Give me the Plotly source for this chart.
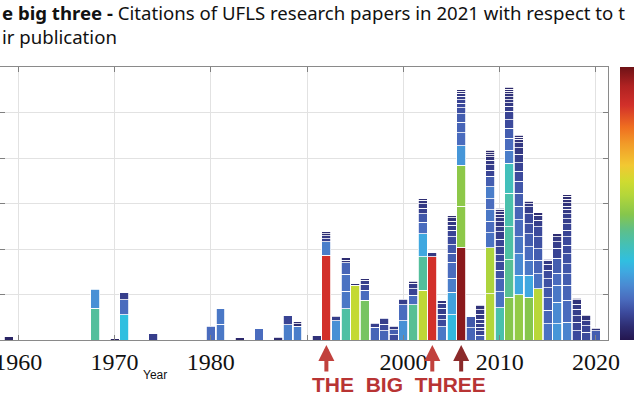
import plotly.graph_objects as go

# ---------------- data ----------------
years = [1959, 1968, 1970, 1971, 1974, 1980, 1981, 1983, 1985, 1987, 1988, 1989,
         1991, 1992, 1993, 1994, 1995, 1996, 1997, 1998, 1999, 2000, 2001, 2002,
         2003, 2004, 2005, 2006, 2007, 2008, 2009, 2010, 2011, 2012, 2013, 2014,
         2015, 2016, 2017, 2018, 2019, 2020]

# citations in 2021 of each paper of the year, stacked bottom -> top
paper_citations = [
    [1.5],
    [14.0, 8.4],
    [0.6],
    [11.2, 6.5, 3.1],
    [2.8],
    [6.0],
    [7.0, 6.8],
    [1.0],
    [5.0],
    [1.3],
    [6.6, 4.0],
    [6.0, 1.2, 0.8],
    [1.8],
    [37.2, 5.9, 1.5, 1.2, 0.9, 0.9],
    [8.4, 1.8, 0.4],
    [13.7, 7.7, 7.4, 5.1, 1.2, 1.0],
    [24.0, 0.7],
    [17.4, 4.4, 2.6, 1.8, 0.7],
    [5.6, 1.8],
    [4.1, 2.9, 2.5],
    [2.4, 2.1, 1.6],
    [8.5, 7.1, 2.4],
    [15.5, 4.1, 2.9, 2.5, 0.9],
    [21.8, 14.9, 9.9, 5.2, 3.7, 2.5, 1.9, 1.5, 0.6],
    [36.5, 1.9],
    [5.9, 2.9, 2.6, 2.5, 2.2, 1.2],
    [11.0, 9.9, 6.3, 6.9, 4.1, 3.7, 3.4, 2.9, 2.2, 1.8, 1.5, 0.9],
    [40.8, 18.1, 18.0, 8.5, 5.6, 4.7, 3.7, 2.6, 2.1, 1.6, 1.5, 1.3, 0.9, 0.6],
    [5.3, 5.0],
    [2.2, 1.9, 1.5, 1.8, 1.8, 2.2, 1.9, 1.9],
    [20.3, 20.2, 6.6, 5.1, 5.1, 4.9, 5.1, 4.7, 2.6, 2.5, 1.9, 1.5, 1.0, 0.9, 1.0],
    [14.1, 7.2, 5.6, 3.7, 3.7, 3.2, 3.4, 3.4, 3.2, 2.2, 2.2, 1.8, 1.5, 1.2, 1.0, 0.5],
    [18.8, 16.5, 14.4, 14.7, 13.2, 5.9, 5.2, 4.4, 3.7, 3.7, 2.2, 1.6, 1.4, 1.3, 1.2, 1.1, 1.0, 0.7],
    [19.9, 8.5, 9.6, 7.4, 7.4, 5.9, 5.9, 5.2, 4.4, 3.7, 3.7, 2.9, 2.2, 1.5, 1.0, 0.8],
    [18.8, 9.6, 6.6, 5.9, 5.9, 4.4, 4.4, 2.9, 1.5, 1.0],
    [22.5, 6.6, 5.9, 5.2, 5.2, 4.4, 2.9, 2.2, 1.0],
    [7.1, 5.9, 5.6, 4.3, 4.1, 3.7, 2.6, 1.8, 0.5],
    [7.1, 9.6, 7.4, 5.2, 6.6, 4.4, 2.9, 2.2, 1.2],
    [7.8, 9.6, 6.6, 5.2, 4.4, 4.4, 3.7, 3.7, 2.9, 2.9, 2.2, 2.2, 1.8, 1.5, 1.5, 1.5, 1.2, 0.7],
    [4.1, 3.7, 2.9, 2.9, 2.2, 1.8, 0.7],
    [3.4, 2.9, 2.2, 2.2, 0.5],
    [4.1, 0.8, 0.5],
]

# colour value (relative position on the colour bar) of each paper
paper_shade = [
    [0.03],
    [0.38, 0.21],
    [0.03],
    [0.29, 0.15, 0.08],
    [0.08],
    [0.15],
    [0.17, 0.17],
    [0.04],
    [0.15],
    [0.05],
    [0.18, 0.09],
    [0.18, 0.05, 0.05],
    [0.06],
    [0.86, 0.18, 0.08, 0.07, 0.05, 0.05],
    [0.21, 0.08, 0.05],
    [0.37, 0.17, 0.16, 0.14, 0.06, 0.05],
    [0.56, 0.05],
    [0.44, 0.15, 0.09, 0.08, 0.05],
    [0.14, 0.08],
    [0.14, 0.10, 0.08],
    [0.10, 0.13, 0.07],
    [0.21, 0.15, 0.08],
    [0.39, 0.15, 0.09, 0.08, 0.05],
    [0.55, 0.38, 0.25, 0.15, 0.12, 0.08, 0.07, 0.06, 0.05],
    [0.86, 0.07],
    [0.17, 0.10, 0.09, 0.08, 0.08, 0.06],
    [0.28, 0.24, 0.18, 0.15, 0.13, 0.12, 0.10, 0.09, 0.08, 0.07, 0.06, 0.05],
    [0.97, 0.47, 0.47, 0.22, 0.15, 0.14, 0.13, 0.11, 0.10, 0.09, 0.08, 0.07, 0.06, 0.05],
    [0.14, 0.12],
    [0.13, 0.09, 0.08, 0.08, 0.08, 0.07, 0.07, 0.06],
    [0.53, 0.52, 0.16, 0.15, 0.17, 0.15, 0.18, 0.13, 0.09, 0.08, 0.07, 0.06, 0.05, 0.05, 0.04],
    [0.36, 0.16, 0.14, 0.11, 0.10, 0.10, 0.09, 0.09, 0.08, 0.08, 0.07, 0.07, 0.06, 0.06, 0.05, 0.04],
    [0.46, 0.39, 0.37, 0.36, 0.34, 0.18, 0.15, 0.13, 0.10, 0.09, 0.08, 0.07, 0.07, 0.06, 0.06, 0.05, 0.05, 0.04],
    [0.48, 0.25, 0.20, 0.17, 0.15, 0.14, 0.13, 0.12, 0.10, 0.09, 0.08, 0.07, 0.07, 0.06, 0.05, 0.05],
    [0.46, 0.25, 0.17, 0.15, 0.13, 0.11, 0.10, 0.08, 0.07, 0.05],
    [0.54, 0.16, 0.14, 0.13, 0.11, 0.10, 0.08, 0.07, 0.05],
    [0.16, 0.14, 0.13, 0.12, 0.11, 0.10, 0.08, 0.07, 0.05],
    [0.22, 0.20, 0.17, 0.15, 0.13, 0.09, 0.08, 0.07, 0.05],
    [0.19, 0.15, 0.14, 0.13, 0.12, 0.11, 0.10, 0.10, 0.09, 0.09, 0.08, 0.08, 0.07, 0.07, 0.06, 0.06, 0.05, 0.04],
    [0.10, 0.09, 0.08, 0.08, 0.07, 0.06, 0.04],
    [0.10, 0.09, 0.08, 0.06, 0.04],
    [0.13, 0.06, 0.04],
]

tick_years = [1960, 1970, 1980, 1990, 2000, 2010, 2020]
tick_labels = ["1960", "1970", "1980", "", "2000", "2010", "2020"]
big_three = [1992, 2003, 2006]
big_three_colors = ["#c1413d", "#c1413d", "#8b2a2a"]

# text visible in the (cropped) reference picture
title_bold = "e big three - "
title_line1 = "Citations of UFLS research papers in 2021 with respect to t"
title_line2 = "ir publication"

colorscale = [
    [0.00, "#24164f"], [0.05, "#2e2d72"], [0.10, "#3c4a9c"], [0.15, "#4a6cbe"],
    [0.20, "#4a8ad2"], [0.25, "#3fa8e0"], [0.29, "#30bfe0"], [0.35, "#45c0b4"],
    [0.40, "#5cbf8c"], [0.46, "#86c64c"], [0.53, "#b4d63a"], [0.58, "#cfdb30"],
    [0.64, "#f2c832"], [0.72, "#f29a28"], [0.78, "#ef6e20"], [0.86, "#d2302a"],
    [0.93, "#b02222"], [1.00, "#6e1216"],
]

# ---------------- figure ----------------
fig = go.Figure()
n_layers = max(len(h) for h in paper_citations)
for k in range(n_layers):
    xs, ys, cs = [], [], []
    for yr, hs, ss in zip(years, paper_citations, paper_shade):
        if k < len(hs):
            xs.append(yr)
            ys.append(hs[k])
            cs.append(ss[k])
    fig.add_trace(go.Bar(
        x=xs, y=ys,
        marker=dict(color=cs, coloraxis="coloraxis",
                    line=dict(color="white", width=0.8)),
        showlegend=False, hoverinfo="skip",
    ))

W, H = 634, 397
L, R, T, B = 0, 26, 67, 57
pw, ph = W - L - R, H - T - B


def px_x(p):
    return (p - L) / pw


def px_y(p):
    return (H - B - p) / ph


fig.update_layout(
    width=W, height=H,
    margin=dict(l=L, r=R, t=T, b=B, pad=0, autoexpand=False),
    barmode="stack", bargap=0.07,
    plot_bgcolor="white", paper_bgcolor="white",
    coloraxis=dict(
        colorscale=colorscale, cmin=0, cmax=1,
        colorbar=dict(x=px_x(620), xanchor="left", xpad=0, ypad=0,
                      y=0.5, yanchor="middle", len=1, lenmode="fraction",
                      thickness=16, outlinewidth=0, ticks="",
                      showticklabels=False),
    ),
    xaxis=dict(
        range=[1958.1, 2021.25], tickmode="array",
        tickvals=tick_years, ticktext=tick_labels, automargin=False,
        ticklabeloverflow="allow",
        showgrid=True, gridcolor="#e2e2e2", gridwidth=1,
        showline=True, linecolor="#8a8a8a", linewidth=1, mirror="ticks",
        ticks="inside", ticklen=5, tickcolor="#808080",
        tickfont=dict(family="Liberation Serif", size=24, color="#111"),
        zeroline=False,
    ),
    yaxis=dict(
        range=[0, 120], dtick=20, automargin=False,
        showgrid=True, gridcolor="#e2e2e2", gridwidth=1,
        showline=True, linecolor="#8a8a8a", linewidth=1, mirror="ticks",
        ticks="inside", ticklen=5, tickcolor="#808080",
        showticklabels=False, zeroline=False,
    ),
    font=dict(family="Noto Sans", color="#111"),
)

anns = []
anns.append(dict(xref="paper", yref="paper", x=px_x(0), y=px_y(24.5),
                 xanchor="left", yanchor="middle", align="left", showarrow=False,
                 text="<b>" + title_bold + "</b>" + title_line1 + "<br>" + title_line2,
                 font=dict(family="Noto Sans", size=18.6, color="#111")))
anns.append(dict(xref="paper", yref="paper", x=px_x(155), y=px_y(375),
                 xanchor="center", yanchor="middle", showarrow=False,
                 text="Year", font=dict(family="Liberation Sans", size=12, color="#111")))
for yr, col in zip(big_three, big_three_colors):
    anns.append(dict(xref="x", yref="paper", x=yr, y=px_y(345), ax=0, ay=28,
                     axref="pixel", ayref="pixel", text="", showarrow=True,
                     arrowhead=2, arrowsize=0.8, arrowwidth=4, arrowcolor=col,
                     standoff=0, startstandoff=0))
anns.append(dict(xref="paper", yref="paper", x=px_x(399), y=px_y(384),
                 xanchor="center", yanchor="middle", showarrow=False,
                 text="<b>THE&nbsp;&nbsp;BIG&nbsp;&nbsp;THREE</b>",
                 font=dict(family="Liberation Sans", size=21, color="#b83434")))
fig.update_layout(annotations=anns)

fig.write_html("out.html",
               config={"displayModeBar": False},
               post_script="document.body.style.margin='0';document.body.style.overflow='hidden';")
